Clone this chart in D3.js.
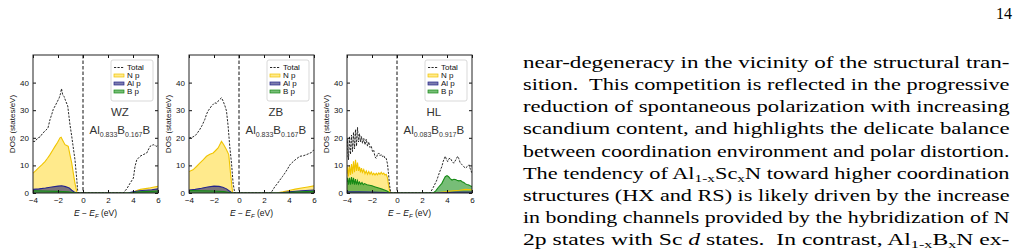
<!DOCTYPE html>
<html>
<head>
<meta charset="utf-8">
<script src="https://cdn.jsdelivr.net/npm/d3@7"></script>
<style>
  body { margin: 0; background: #fff; }
  svg { display: block; }
</style>
</head>
<body>
<svg id="page" width="1018" height="249"></svg>
<script>
// ---- data (energy in eV relative to E_F, DOS in states/eV) ----
const energyTicks = [-4, -2, 0, 2, 4, 6];
const dosTicks = [0, 10, 20, 30, 40];
const seriesNames = ["Total", "N p", "Al p", "B p"];
const phaseNames = ["WZ", "ZB", "HL"];
const compositions = [["0.833", "0.167"], ["0.833", "0.167"], ["0.083", "0.917"]];

const wzTotal = [[-4,18.7],[-3.84,18.7],[-3.6,20],[-3.44,20.3],[-3.2,21.8],[-3.04,22.4],[-2.8,23.6],[-2.64,26.6],[-2.5,28.5],[-2.38,30.3],[-2.2,31.8],[-2.1,32.7],[-1.9,34.5],[-1.8,36],[-1.72,37.8],[-1.62,35.5],[-1.52,35],[-1.4,33.5],[-1.22,31.5],[-1.05,25],[-0.9,20.5],[-0.75,15.5],[-0.64,12],[-0.5,5],[-0.43,1],[-0.38,0],[3.22,0],[3.5,1.5],[3.76,3.5],[4.03,5.4],[4.16,9.6],[4.3,12],[4.56,13.3],[4.82,13.9],[5.1,14.5],[5.36,16.9],[5.62,17.5],[5.9,16.9],[6,17.5]];
const wzNp = [[-4,7.2],[-3.8,8],[-3.58,9],[-3.3,10.2],[-3.04,11.4],[-2.84,12.6],[-2.64,13.9],[-2.44,15.4],[-2.24,16.9],[-2.04,18.3],[-1.84,20],[-1.75,20.2],[-1.65,19.3],[-1.44,17.5],[-1.3,17.2],[-1.18,16.9],[-1.05,14],[-0.9,10.8],[-0.75,6.5],[-0.64,3.5],[-0.5,0.5],[-0.45,0],[3.8,0],[4,0.3],[4.3,0.9],[4.6,1.3],[5,1.6],[5.4,1.9],[5.7,2.2],[6,2.4]];
const wzAlp = [[-4,1.3],[-3.5,1.5],[-3,1.8],[-2.5,2.2],[-2,2.5],[-1.7,2.6],[-1.4,2.3],[-1.1,1.8],[-0.9,1],[-0.7,0.4],[-0.5,0],[3.6,0],[4,0.4],[4.5,0.8],[5,1],[5.5,1.2],[6,1.5]];
const wzBp = [[-4,0.8],[-3,0.7],[-2,0.6],[-1.2,0.4],[-0.8,0.2],[-0.5,0],[3.8,0],[4.5,0.4],[5.5,0.6],[6,0.7]];

const zbTotal = [[-4,19.9],[-3.68,20.3],[-3.41,21.2],[-3.14,23],[-2.95,24.5],[-2.74,26.6],[-2.6,28.5],[-2.48,29.7],[-2.2,31.5],[-1.94,32.7],[-1.8,32.5],[-1.67,33.3],[-1.4,34.5],[-1.27,33.3],[-1.12,31.5],[-1,29.7],[-0.87,24.2],[-0.74,16.9],[-0.6,10.8],[-0.47,3.5],[-0.34,0],[2.55,0],[2.87,2.3],[3.07,3.4],[3.27,4.7],[3.47,5.9],[3.67,7.2],[3.87,8.6],[4.07,10.2],[4.2,10.8],[4.34,11.4],[4.6,12.4],[4.88,13.3],[5.15,13.5],[5.4,13.9],[5.6,14.3],[5.8,14.7],[6,15.7]];
const zbNp = [[-4,7.8],[-3.68,8.4],[-3.4,9.6],[-3.14,10.8],[-2.87,12],[-2.6,13.3],[-2.33,14],[-2.07,14.5],[-1.87,15.4],[-1.67,16.3],[-1.5,17.8],[-1.4,18.7],[-1.22,17.5],[-1,15.7],[-0.82,13.9],[-0.68,7.2],[-0.52,0.5],[-0.45,0],[3,0],[3.5,0.4],[4,0.9],[4.5,1.4],[5,1.8],[5.5,2.2],[6,2.6]];
const zbAlp = [[-4,1.1],[-3.5,1.3],[-3,1.7],[-2.5,2.2],[-2,2.5],[-1.6,2.4],[-1.3,2.1],[-1,1.5],[-0.8,0.8],[-0.6,0.2],[-0.5,0],[3.2,0],[4,0.4],[5,0.8],[6,1.1]];
const zbBp = [[-4,0.9],[-3,0.8],[-2,0.7],[-1.2,0.5],[-0.8,0.2],[-0.5,0],[3.5,0],[4.5,0.3],[5.5,0.5],[6,0.6]];

const hlTotal = [[-4,13],[-3.95,19.5],[-3.88,12],[-3.8,20.5],[-3.72,14],[-3.64,21],[-3.56,15],[-3.48,22],[-3.4,16],[-3.32,23],[-3.24,17],[-3.16,23.8],[-3.08,18.5],[-3,21.5],[-2.92,18.5],[-2.84,20.5],[-2.76,18],[-2.66,19.8],[-2.56,17.5],[-2.46,19.5],[-2.36,17],[-2.26,18.5],[-2.16,16.5],[-2.06,17],[-1.96,15],[-1.86,15.5],[-1.76,13],[-1.66,12.6],[-1.56,14],[-1.46,14.5],[-1.36,13.5],[-1.26,14],[-1.16,13.2],[-1.06,13.6],[-0.96,12.5],[-0.86,12.5],[-0.76,10.5],[-0.68,7],[-0.6,3],[-0.5,0],[2.65,0],[2.9,2],[3.19,4.7],[3.4,7.5],[3.59,9.6],[3.7,11.5],[3.86,13.3],[3.95,12.2],[4.05,11.4],[4.15,12.4],[4.27,12.6],[4.4,11.5],[4.54,10.8],[4.7,12],[4.85,13.3],[4.94,12.5],[5.05,11],[5.21,10.2],[5.35,9.5],[5.48,9],[5.6,9.5],[5.75,10.2],[5.88,8.5],[6,7.2]];
const hlNp = [[-4,7],[-3.95,9.5],[-3.88,6],[-3.8,10],[-3.72,6.5],[-3.64,10.5],[-3.56,7],[-3.48,11.5],[-3.4,7.5],[-3.32,12],[-3.24,8],[-3.16,11],[-3.08,8],[-3,9.5],[-2.92,7.5],[-2.84,9],[-2.76,7.5],[-2.66,8.5],[-2.56,7],[-2.46,8],[-2.36,6.8],[-2.26,7.8],[-2.16,6.8],[-2.06,7.6],[-1.96,6.6],[-1.86,7.2],[-1.76,6.5],[-1.66,7.2],[-1.56,6.6],[-1.46,7.3],[-1.36,6.8],[-1.26,7.5],[-1.16,6.8],[-1.06,7.2],[-0.96,6.5],[-0.86,6.8],[-0.76,5.5],[-0.68,3],[-0.6,1],[-0.52,0],[3,0],[3.5,0.3],[4,0.5],[4.5,0.8],[5,1],[5.5,1.3],[6,1.2]];
const hlAlp = [[-4,0.4],[-3,0.4],[-2,0.3],[-1,0.2],[-0.6,0],[3,0],[4,0.2],[5,0.3],[6,0.3]];
const hlBp = [[-4,4],[-3.95,5.5],[-3.88,3],[-3.8,5.5],[-3.72,3],[-3.64,5.8],[-3.56,3.2],[-3.48,5.5],[-3.4,3],[-3.32,5],[-3.24,3],[-3.16,4.5],[-3.08,3.2],[-3,4],[-2.9,3.2],[-2.8,3.8],[-2.7,3],[-2.6,3.4],[-2.4,3],[-2.2,2.8],[-2,2.6],[-1.8,2.3],[-1.6,2],[-1.4,1.7],[-1.2,1.4],[-1,1.1],[-0.8,0.7],[-0.65,0.3],[-0.55,0],[2.9,0],[3.1,0.8],[3.3,2],[3.59,3.5],[3.75,5],[3.86,5.9],[4,6.3],[4.13,5.9],[4.25,5.2],[4.4,4.7],[4.55,5],[4.67,4.9],[4.8,4.6],[4.94,4.4],[5.1,4.5],[5.21,4.1],[5.35,3.8],[5.48,3.3],[5.6,3.1],[5.75,2.9],[5.9,2.5],[6,2.3]];

const panelData = [
  [wzTotal, wzNp, wzAlp, wzBp],
  [zbTotal, zbNp, zbAlp, zbBp],
  [hlTotal, hlNp, hlAlp, hlBp]
];

// body text lines of the page (segments: [text, style])
const bodyLines = [
  [["near-degeneracy in the vicinity of the structural tran-"]],
  [["sition.  This competition is reflected in the progressive"]],
  [["reduction of spontaneous polarization with increasing"]],
  [["scandium content, and highlights the delicate balance"]],
  [["between coordination environment and polar distortion."]],
  [["The tendency of Al"], ["1-x", "sub"], ["Sc"], ["x", "sub"], ["N toward higher coordination"]],
  [["structures (HX and RS) is likely driven by the increase"]],
  [["in bonding channels provided by the hybridization of N"]],
  [["2p states with Sc "], ["d", "it"], [" states.  In contrast, Al"], ["1-x", "sub"], ["B"], ["x", "sub"], ["N ex-"]]
];

// ---- layout ----
const svg = d3.select("#page");
const sans = "'Liberation Sans', Arial, sans-serif";
const serif = "'Liberation Serif', 'Times New Roman', serif";
const panelLefts = [33, 189, 347];
const plotW = 125, plotTop = 55, plotBottom = 193;

const lineColors = ["#111", "#f0c400", "#25258c", "#168a16"];
const fillColors = [null, "#ffd92e", "#1e1e70", "#2e9a2e"];
const fillOpacity = [0, 0.55, 0.58, 0.65];

svg.append("rect").attr("width", 1018).attr("height", 249).attr("fill", "#fff");

function drawPanel(i) {
  const left = panelLefts[i];
  const x = d3.scaleLinear().domain([-4, 6]).range([left, left + plotW]);
  const y = d3.scaleLinear().domain([0, 50]).range([plotBottom, plotTop]);
  const g = svg.append("g");

  // clip region
  svg.append("clipPath").attr("id", "clip" + i)
    .append("rect").attr("x", left).attr("y", plotTop).attr("width", plotW).attr("height", plotBottom - plotTop);
  const plot = g.append("g").attr("clip-path", `url(#clip${i})`);

  const area = d3.area().x(d => x(d[0])).y0(y(0)).y1(d => y(d[1]));
  const line = d3.line().x(d => x(d[0])).y(d => y(d[1]));
  const data = panelData[i];

  // fills first (N p, Al p, B p)
  for (let s = 1; s < 4; s++) {
    plot.append("path").datum(data[s])
      .attr("d", area)
      .attr("fill", fillColors[s])
      .attr("fill-opacity", fillOpacity[s]);
  }
  for (let s = 1; s < 4; s++) {
    plot.append("path").datum(data[s])
      .attr("d", line)
      .attr("fill", "none")
      .attr("stroke", lineColors[s])
      .attr("stroke-width", 1.1);
  }
  // total DOS, dashed
  plot.append("path").datum(data[0])
    .attr("d", line)
    .attr("fill", "none")
    .attr("stroke", lineColors[0])
    .attr("stroke-width", 0.9)
    .attr("stroke-dasharray", "2.2,1.3");

  // Fermi level
  g.append("line")
    .attr("x1", x(0)).attr("x2", x(0))
    .attr("y1", plotTop).attr("y2", plotBottom)
    .attr("stroke", "#111").attr("stroke-width", 1)
    .attr("stroke-dasharray", "3.5,2");

  // axes with inward ticks
  const axisStyle = sel => {
    sel.select(".domain").remove();
    sel.selectAll(".tick line").attr("stroke", "#111");
    sel.selectAll(".tick text").attr("fill", "#111")
      .style("font-family", sans).style("font-size", "8px");
  };
  g.append("g").attr("transform", `translate(0,${plotBottom})`)
    .call(d3.axisBottom(x).tickValues(energyTicks).tickSize(-3).tickPadding(4)).call(axisStyle);
  g.append("g").attr("transform", `translate(0,${plotTop})`)
    .call(d3.axisTop(x).tickValues(energyTicks).tickSize(-3).tickFormat("")).call(axisStyle);
  g.append("g").attr("transform", `translate(${left},0)`)
    .call(d3.axisLeft(y).tickValues(dosTicks).tickSize(-3).tickPadding(4)).call(axisStyle);
  g.append("g").attr("transform", `translate(${left + plotW},0)`)
    .call(d3.axisRight(y).tickValues(dosTicks).tickSize(-3).tickFormat("")).call(axisStyle);

  // frame
  g.append("rect")
    .attr("x", left).attr("y", plotTop)
    .attr("width", plotW).attr("height", plotBottom - plotTop)
    .attr("fill", "none").attr("stroke", "#222").attr("stroke-width", 1);

  // axis labels
  g.append("text")
    .attr("transform", `translate(${left - 21},${(plotTop + plotBottom) / 2}) rotate(-90)`)
    .attr("text-anchor", "middle").attr("dy", "0.35em")
    .style("font-family", sans).style("font-size", "8px").attr("fill", "#111")
    .text("DOS (states/eV)");

  const xl = g.append("text")
    .attr("x", left + plotW / 2).attr("y", 216)
    .attr("text-anchor", "middle")
    .style("font-family", sans).style("font-size", "8.5px").attr("fill", "#111");
  xl.append("tspan").style("font-style", "italic").text("E");
  xl.append("tspan").text(" \u2212 ");
  xl.append("tspan").style("font-style", "italic").text("E");
  xl.append("tspan").style("font-style", "italic").style("font-size", "6px").attr("dy", 2).text("F");
  xl.append("tspan").attr("dy", -2).text(" (eV)");

  // legend
  const lx = left + plotW - 47, ly = plotTop + 5;
  const leg = g.append("g");
  leg.append("rect").attr("x", lx).attr("y", ly).attr("width", 42).attr("height", 41)
    .attr("rx", 2).attr("fill", "#fff").attr("fill-opacity", 0.85)
    .attr("stroke", "#cfcfcf").attr("stroke-width", 0.8);
  seriesNames.forEach((name, s) => {
    const cy = ly + 7.5 + s * 8;
    if (s === 0) {
      leg.append("line").attr("x1", lx + 3).attr("x2", lx + 13).attr("y1", cy).attr("y2", cy)
        .attr("stroke", lineColors[0]).attr("stroke-width", 0.9).attr("stroke-dasharray", "2.2,1.3");
    } else {
      leg.append("rect").attr("x", lx + 3).attr("y", cy - 1.5).attr("width", 10).attr("height", 3)
        .attr("fill", fillColors[s]).attr("fill-opacity", fillOpacity[s])
        .attr("stroke", lineColors[s]).attr("stroke-width", 0.7);
    }
    leg.append("text").attr("x", lx + 16).attr("y", cy).attr("dy", "0.35em")
      .style("font-family", sans).style("font-size", "8px").attr("fill", "#111")
      .text(name);
  });

  // phase and composition annotation
  const cx = x(2.95);
  g.append("text").attr("x", cx).attr("y", 116).attr("text-anchor", "middle")
    .style("font-family", sans).style("font-size", "11.5px").attr("fill", "#333")
    .text(phaseNames[i]);
  const comp = g.append("text").attr("x", cx).attr("y", 134).attr("text-anchor", "middle")
    .style("font-family", sans).style("font-size", "11.5px").attr("fill", "#333");
  comp.append("tspan").text("Al");
  comp.append("tspan").style("font-size", "7px").attr("dy", 3).text(compositions[i][0]);
  comp.append("tspan").attr("dy", -3).text("B");
  comp.append("tspan").style("font-size", "7px").attr("dy", 3).text(compositions[i][1]);
  comp.append("tspan").attr("dy", -3).text("B");
}

[0, 1, 2].forEach(drawPanel);

// ---- page text ----
const textLeft = 523, textRight = 1009.5, firstBase = 67.7, lineGap = 22.2;
bodyLines.forEach((segs, k) => {
  const t = svg.append("text")
    .attr("x", textLeft).attr("y", firstBase + k * lineGap)
    .attr("textLength", textRight - textLeft).attr("lengthAdjust", "spacingAndGlyphs")
    .style("font-family", serif).style("font-size", "16px").style("white-space", "pre")
    .attr("fill", "#000");
  let shifted = 0;
  segs.forEach(([txt, kind]) => {
    const sp = t.append("tspan").text(txt);
    if (kind === "sub") {
      sp.style("font-size", "11px").attr("dy", 3 - shifted);
      shifted = 3;
    } else {
      if (shifted) sp.attr("dy", -shifted);
      shifted = 0;
      if (kind === "it") sp.style("font-style", "italic");
    }
  });
});

svg.append("text").attr("x", 1012).attr("y", 19).attr("text-anchor", "end")
  .style("font-family", serif).style("font-size", "16px").attr("fill", "#000")
  .text("14");
</script>
</body>
</html>
